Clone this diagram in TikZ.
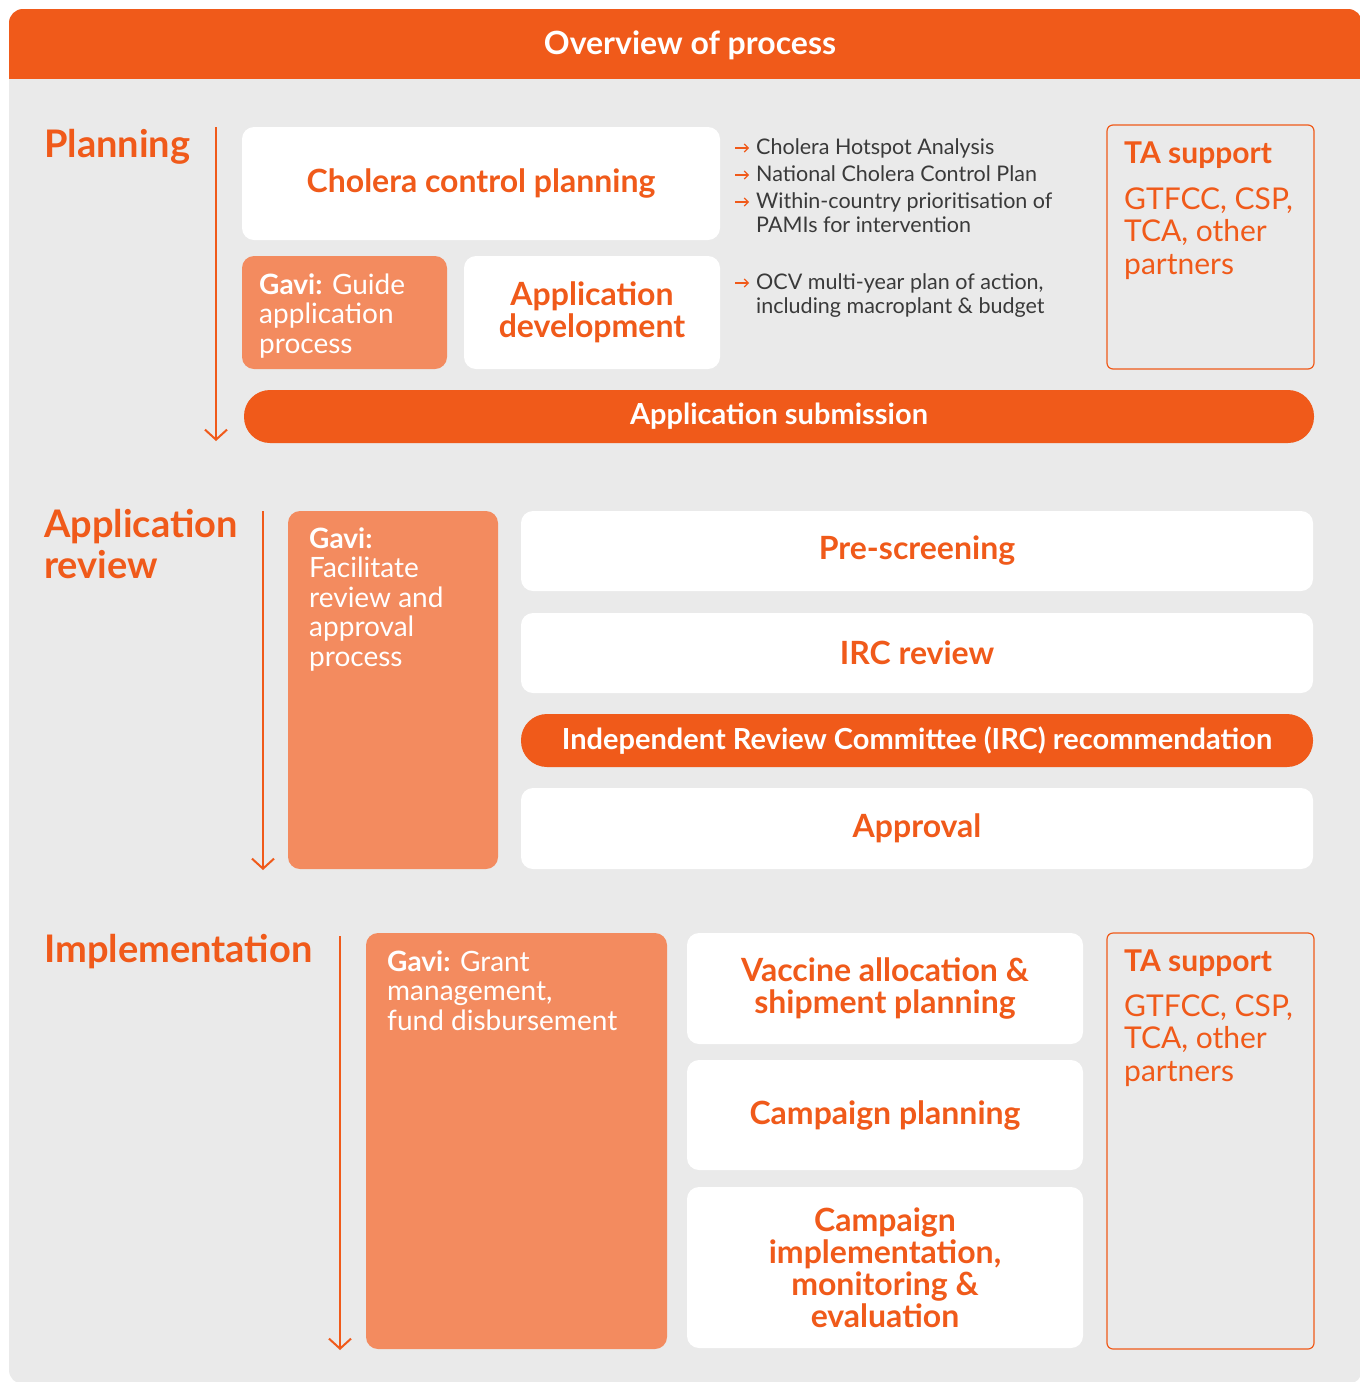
\documentclass[tikz,border=0pt]{standalone}
\usepackage{fontspec}
\setmainfont{Lato}
\usetikzlibrary{positioning}
\usetikzlibrary{arrows.meta}
\definecolor{gaviorange}{HTML}{F05A1A}
\definecolor{gavilight}{HTML}{F38B5F}
\definecolor{panelgray}{HTML}{EAEAEA}
\definecolor{bulletgray}{HTML}{3A3A3A}

\begin{document}
\begin{tikzpicture}[x=1pt,y=-1pt,
	wbox/.style={fill=white, rounded corners=12pt, inner sep=0pt, outer sep=0pt, align=center, text=gaviorange, font=\bfseries\fontsize{32}{32}\selectfont},
	gbox/.style={fill=gavilight, rounded corners=12pt, inner sep=0pt, outer sep=0pt},
	gtxt/.style={inner sep=0pt, align=left, text=white, font=\fontsize{28}{29.5}\selectfont},
	pill/.style={fill=gaviorange, rounded corners=26pt, inner sep=0pt, outer sep=0pt, text=white, font=\bfseries\fontsize{29}{30}\selectfont},
	tabox/.style={draw=gaviorange, line width=1.2pt, rounded corners=6pt, inner sep=0pt, outer sep=0pt},
	tatxt/.style={inner sep=0pt, align=left, text=gaviorange, font=\fontsize{30}{32.5}\selectfont},
	phase/.style={inner sep=0pt, align=left, text=gaviorange, font=\bfseries\fontsize{38}{41}\selectfont},
	bul/.style={inner sep=0pt, align=left, text=bulletgray, font=\fontsize{21.5}{24}\selectfont},
	bularr/.style={-{Straight Barb[length=4pt,width=8pt]}, gaviorange, line width=1.1pt},
	timeline/.style={-{Straight Barb[length=10pt,width=22pt]}, gaviorange, line width=2pt}]

	\useasboundingbox (0,0) rectangle (1360,1382);
	\clip (0,0) rectangle (1360,1382);

	% background and header
	\fill[panelgray, rounded corners=14pt] (9,9) rectangle (1362,1384);
	\fill[gaviorange, rounded corners=14pt] (9,9) rectangle (1362,100);
	\fill[panelgray] (9,79) rectangle (1362,110);
	\node[text=white, font=\bfseries\fontsize{32}{32}\selectfont] (title) at (690,45) {Overview of process};

	% Planning
	\node[phase, anchor=base west] (plan) at (44,157) {Planning};
	\coordinate (plTop) at (216,127);
	\coordinate (plBot) at (216,441);
	\draw[timeline] (plTop) -- (plBot);

	\node[wbox, minimum width=478, minimum height=113] (ccp) at (481,183.5) {Cholera control planning};
	\node[gbox, minimum width=205, minimum height=113] (guide) at (344.5,312.5) {};
	% multi-line nodes: base is the last line
	\node[gtxt, anchor=base west] (guidetxt) at (259,353) {\textbf{Gavi:} Guide\\application\\process};
	\node[wbox, minimum width=256, minimum height=113] (appdev) at (592,312.5) {Application\\development};
	\node[pill, minimum width=1070, minimum height=53] (submit) at (779,416.5) {Application submission};

	% outputs of planning
	\node[bul, anchor=base west] (b1) at (756,154) {Cholera Hotspot Analysis};
	\node[bul, anchor=base west] (b2) at (756,181) {National Cholera Control Plan};
	\node[bul, anchor=base west] (b3) at (756,232) {Within-country prioritisation of\\PAMIs for intervention};
	\node[bul, anchor=base west] (b4) at (756,313) {OCV multi-year plan of action,\\including macroplant \& budget};
	\foreach \b/\up in {b1/6,b2/6,b3/30,b4/30}
		\draw[bularr] ([xshift=-21pt,yshift=\up pt]\b.base west) -- ([xshift=-7pt,yshift=\up pt]\b.base west);

	\node[tabox, minimum width=207, minimum height=244] (ta1) at (1210.5,247) {};
	\node[tatxt, anchor=base west] (ta1head) at (1124,163) {\textbf{TA support}};
	\node[tatxt, anchor=base west] (ta1txt) at (1124,274) {GTFCC, CSP,\\TCA, other\\partners};

	% Application review
	\node[phase, anchor=base west] (review) at (44,578) {Application\\review};
	\coordinate (rvTop) at (263,511);
	\coordinate (rvBot) at (263,870);
	\draw[timeline] (rvTop) -- (rvBot);

	\node[gbox, minimum width=210, minimum height=358] (facil) at (393,690) {};
	\node[gtxt, anchor=base west] (faciltxt) at (309,666) {\textbf{Gavi:}\\Facilitate\\review and\\approval\\process};
	\node[wbox, minimum width=792, minimum height=80] (prescr) at (917,551) {Pre-screening};
	\node[wbox, minimum width=792, minimum height=80] (ircrev) at (917,653) {IRC review};
	\node[pill, minimum width=792, minimum height=53] (ircrec) at (917,740.5) {Independent Review Committee (IRC) recommendation};
	\node[wbox, minimum width=792, minimum height=81] (approv) at (917,828.5) {Approval};

	% Implementation
	\node[phase, anchor=base west] (impl) at (44,962) {Implementation};
	\coordinate (imTop) at (340,936);
	\coordinate (imBot) at (340,1350);
	\draw[timeline] (imTop) -- (imBot);

	\node[gbox, minimum width=301, minimum height=416] (grant) at (516.5,1141) {};
	\node[gtxt, anchor=base west] (granttxt) at (387,1030) {\textbf{Gavi:} Grant\\management,\\fund disbursement};
	\node[wbox, minimum width=396, minimum height=111] (vacc) at (885,988.5) {Vaccine allocation \&\\shipment planning};
	\node[wbox, minimum width=396, minimum height=110] (camp) at (885,1115) {Campaign planning};
	\node[wbox, minimum width=396, minimum height=161] (campimpl) at (885,1267.5) {Campaign\\implementation,\\monitoring \&\\evaluation};

	\node[tabox, minimum width=207, minimum height=416] (ta2) at (1210.5,1141) {};
	\node[tatxt, anchor=base west] (ta2head) at (1124,971) {\textbf{TA support}};
	\node[tatxt, anchor=base west] (ta2txt) at (1124,1081) {GTFCC, CSP,\\TCA, other\\partners};

\end{tikzpicture}
\end{document}
